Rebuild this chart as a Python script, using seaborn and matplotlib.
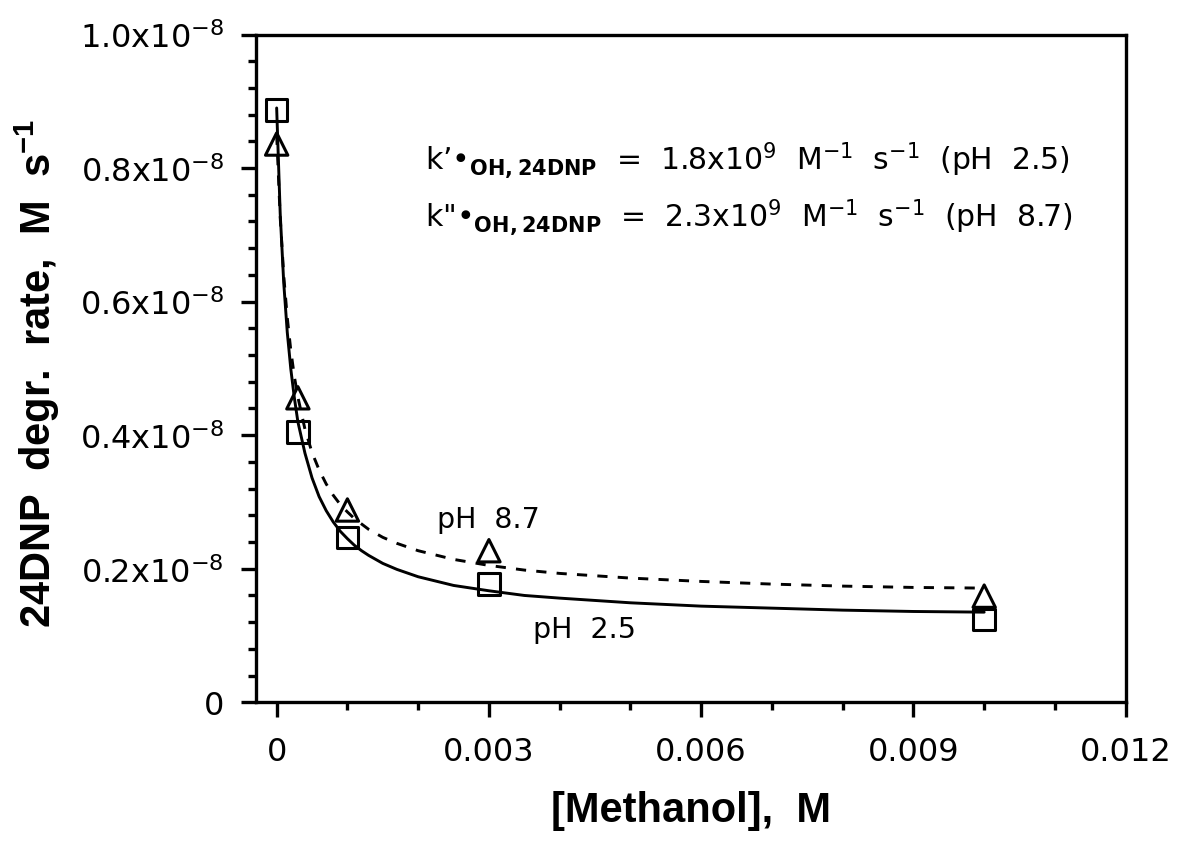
import matplotlib
matplotlib.use("Agg")
import numpy as np
import pandas as pd
import matplotlib.pyplot as plt
import seaborn as sns
from matplotlib.ticker import FixedLocator, FixedFormatter

# ---------------- data (rates in units of 1e-8 M s^-1) ----------------
meoh_ph25 = [0.0, 0.0003, 0.001, 0.003, 0.010]
rate_ph25 = [0.887, 0.405, 0.247, 0.177, 0.124]
meoh_ph87 = [0.0, 0.0003, 0.001, 0.003, 0.010]
rate_ph87 = [0.836, 0.456, 0.288, 0.227, 0.159]

fit_x = [0, 0.00005, 0.0001, 0.00015, 0.0002, 0.00025, 0.0003, 0.0004, 0.0005,
         0.0006, 0.0007, 0.0008, 0.0009, 0.001, 0.0011, 0.0012, 0.0013, 0.0015,
         0.0017, 0.002, 0.0025, 0.003, 0.0035, 0.004, 0.005, 0.006, 0.007,
         0.008, 0.009, 0.010]
fit_ph25 = [0.890, 0.732, 0.628, 0.554, 0.499, 0.456, 0.420, 0.373, 0.336,
            0.308, 0.287, 0.270, 0.256, 0.245, 0.235, 0.227, 0.220, 0.208,
            0.199, 0.188, 0.175, 0.167, 0.160, 0.156, 0.149, 0.144, 0.141,
            0.138, 0.136, 0.135]
fit_ph87 = [0.850, 0.726, 0.639, 0.576, 0.527, 0.488, 0.457, 0.409, 0.374,
            0.348, 0.327, 0.310, 0.296, 0.285, 0.275, 0.267, 0.259, 0.247,
            0.238, 0.227, 0.214, 0.205, 0.198, 0.193, 0.186, 0.181, 0.177,
            0.174, 0.172, 0.171]

x_major = [0, 0.003, 0.006, 0.009, 0.012]
x_major_labels = ["0", "0.003", "0.006", "0.009", "0.012"]
y_major = [0, 0.2, 0.4, 0.6, 0.8, 1.0]
y_major_labels = ["0", r"0.2x10$^{-8}$", r"0.4x10$^{-8}$", r"0.6x10$^{-8}$",
                  r"0.8x10$^{-8}$", r"1.0x10$^{-8}$"]

# ---------------- style ----------------
sns.set_style("ticks")
plt.rcParams["font.family"] = ["DejaVu Sans"]
plt.rcParams["mathtext.fontset"] = "dejavusans"
plt.rcParams["mathtext.rm"] = "Liberation Sans"
plt.rcParams["mathtext.it"] = "Liberation Sans:italic"
plt.rcParams["mathtext.bf"] = "Liberation Sans:bold"
for key in ["axes.edgecolor", "xtick.color", "ytick.color", "text.color",
            "axes.labelcolor", "xtick.labelcolor", "ytick.labelcolor"]:
    plt.rcParams[key] = "black"

fig = plt.figure(figsize=(11.77, 8.45), dpi=100)
ax = fig.add_axes([256 / 1177, 1 - 703.3 / 845, (1125.7 - 256) / 1177,
                   (703.3 - 35.5) / 845])

df25 = pd.DataFrame({"x": fit_x, "y": fit_ph25})
df87 = pd.DataFrame({"x": fit_x, "y": fit_ph87})
sns.lineplot(data=df25, x="x", y="y", ax=ax, color="black", lw=2.1,
             sort=False, estimator=None)
sns.lineplot(data=df87, x="x", y="y", ax=ax, color="black", lw=2.1,
             sort=False, estimator=None, linestyle=(0, (3.5, 3.5)))

sns.scatterplot(x=meoh_ph25, y=rate_ph25, ax=ax, marker="s", s=240,
                edgecolor="black", linewidth=2.2, zorder=4)
ax.collections[-1].set_facecolor("none")
sns.scatterplot(x=meoh_ph87, y=rate_ph87, ax=ax, marker="^", s=260,
                edgecolor="black", linewidth=2.2, zorder=4)
ax.collections[-1].set_facecolor("none")

ax.set_xlim(-0.000292, 0.012)
ax.set_ylim(0, 1.0)

ax.xaxis.set_major_locator(FixedLocator(x_major))
ax.xaxis.set_major_formatter(FixedFormatter(x_major_labels))
ax.xaxis.set_minor_locator(FixedLocator([0.001 * i for i in range(13) if i % 3]))
ax.yaxis.set_major_locator(FixedLocator(y_major))
ax.yaxis.set_major_formatter(FixedFormatter(y_major_labels))
ax.yaxis.set_minor_locator(FixedLocator([0.04 * i for i in range(26) if i % 5]))

for sp in ax.spines.values():
    sp.set_linewidth(2.4)
    sp.set_visible(True)
ax.tick_params(axis="both", which="major", length=11, width=2.4,
               direction="out", labelsize=23)
ax.tick_params(axis="both", which="minor", length=6, width=2.4, direction="out")
ax.tick_params(axis="x", which="major", pad=13)
ax.tick_params(axis="y", which="major", pad=12)
ax.tick_params(top=False, right=False, which="both")

ax.set_xlabel("[Methanol],  M", fontsize=30, fontweight="bold",
              family="Liberation Sans")
ax.set_ylabel(r"24DNP  degr.  rate,  M  s$^{\mathbf{-1}}$", fontsize=30,
              fontweight="bold", family="Liberation Sans",
              math_fontfamily="custom")
ax.xaxis.set_label_coords(0.5, -0.132)
ax.yaxis.set_label_coords(-0.223, 0.494)

ax.text(0.002095, 0.8133,
        r"k’•$_{\mathbf{OH,24DNP}}$  =  1.8x10$^{9}$  M$^{-1}$  s$^{-1}$  (pH  2.5)",
        fontsize=21.5, va="center", ha="left")
ax.text(0.002095, 0.7266,
        'k"•$_{\\mathbf{OH,24DNP}}$  =  2.3x10$^{9}$  M$^{-1}$  s$^{-1}$  (pH  8.7)',
        fontsize=21.5, va="center", ha="left")
ax.text(0.00226, 0.262, "pH  8.7", fontsize=20.5, va="baseline", ha="left")
ax.text(0.00363, 0.0985, "pH  2.5", fontsize=20.5, va="baseline", ha="left")

fig.savefig("out.png", dpi=100)
